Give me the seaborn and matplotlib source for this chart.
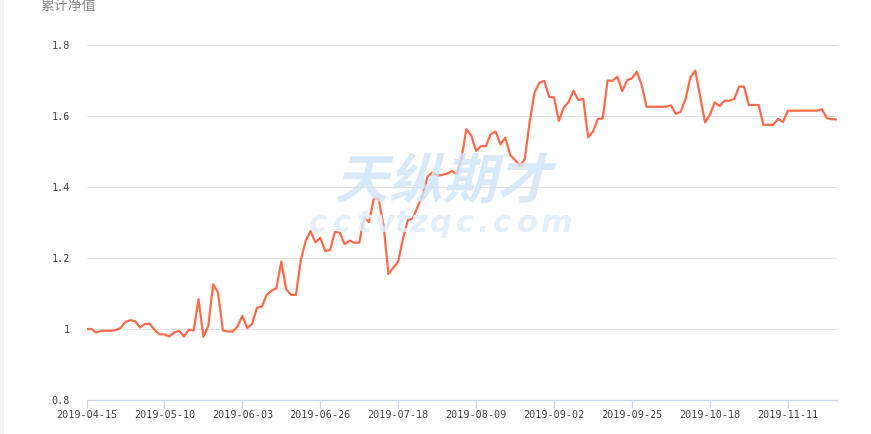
import numpy as np
import pandas as pd
import seaborn as sns
import matplotlib.pyplot as plt
from matplotlib.patches import PathPatch, Rectangle
from matplotlib.textpath import TextPath
from matplotlib.font_manager import FontProperties
from matplotlib.transforms import Affine2D, IdentityTransform

# trading days (China), holidays removed; Oct 1-4 kept in the feed with a flat value
holidays = ['2019-05-01', '2019-05-02', '2019-05-03', '2019-06-07', '2019-09-13', '2019-10-07']
dates = [d.strftime('%Y-%m-%d') for d in pd.bdate_range('2019-04-15', '2019-11-25')
         if d.strftime('%Y-%m-%d') not in holidays]

nav = [
    1.000, 1.000, 0.990, 0.995, 0.995, 0.995, 0.997, 1.003, 1.020, 1.025,
    1.022, 1.004, 1.014, 1.015, 0.997, 0.985, 0.985, 0.979, 0.990, 0.995,
    0.979, 0.998, 0.996, 1.084, 0.978, 1.008, 1.126, 1.103, 0.996, 0.993,
    0.993, 1.007, 1.037, 1.003, 1.014, 1.060, 1.063, 1.096, 1.108, 1.115,
    1.190, 1.112, 1.096, 1.096, 1.194, 1.248, 1.276, 1.244, 1.257, 1.220,
    1.222, 1.273, 1.272, 1.239, 1.249, 1.243, 1.243, 1.315, 1.301, 1.367,
    1.366, 1.290, 1.155, 1.173, 1.190, 1.256, 1.307, 1.312, 1.345, 1.375,
    1.429, 1.441, 1.432, 1.434, 1.437, 1.445, 1.436, 1.481, 1.563, 1.545,
    1.502, 1.515, 1.515, 1.549, 1.556, 1.520, 1.539, 1.490, 1.476, 1.459,
    1.479, 1.584, 1.666, 1.694, 1.699, 1.654, 1.652, 1.586, 1.624, 1.640,
    1.671, 1.645, 1.648, 1.540, 1.556, 1.592, 1.593, 1.700, 1.699, 1.711,
    1.670, 1.701, 1.706, 1.725, 1.687, 1.626, 1.626, 1.626, 1.626, 1.626,
    1.630, 1.606, 1.612, 1.648, 1.709, 1.728, 1.655, 1.582, 1.603, 1.638,
    1.628, 1.643, 1.643, 1.648, 1.683, 1.683, 1.631, 1.631, 1.631, 1.575,
    1.575, 1.575, 1.592, 1.583, 1.615, 1.615, 1.615, 1.615, 1.615, 1.615,
    1.615, 1.619, 1.594, 1.591, 1.590,
]

y_ticks = [0.8, 1.0, 1.2, 1.4, 1.6, 1.8]
y_labels = ['0.8', '1', '1.2', '1.4', '1.6', '1.8']
label_step = 16

df = pd.DataFrame({'date': dates, 'nav': nav})
df['pos'] = np.arange(len(df))

sns.set_style('white')
plt.rcParams['font.family'] = ['DejaVu Sans Mono', 'Noto Sans CJK SC']

W, H = 871, 434
fig = plt.figure(figsize=(W / 100, H / 100), dpi=100)
fig.patch.set_facecolor('white')
fig.patches.append(Rectangle((0, 0), 4 / W, 1, transform=fig.transFigure,
                             facecolor='#f2f2f2', edgecolor='none'))

ax = fig.add_axes([86.5 / W, 34 / H, 750 / W, 355 / H])
sns.lineplot(data=df, x='pos', y='nav', ax=ax, color='#ff6a4a', linewidth=1.6, zorder=3)

ax.set_xlim(0, len(df) - 1)
ax.set_ylim(0.8, 1.8)
ax.set_yticks(y_ticks)
ax.set_yticklabels(y_labels)
tick_pos = df['pos'][::label_step]
ax.set_xticks(tick_pos)
ax.set_xticklabels(df['date'][::label_step])
ax.set_xlabel('')
ax.set_ylabel('')

for y in y_ticks[1:]:
    ax.axhline(y, color='#e3e3e3', linewidth=0.8, zorder=1)

for side in ['top', 'right', 'left']:
    ax.spines[side].set_visible(False)
ax.spines['bottom'].set_color('#c9d5e8')
ax.spines['bottom'].set_linewidth(0.9)
ax.tick_params(axis='x', length=6, width=0.9, color='#c9d5e8', pad=1.5,
               labelsize=7.3, labelcolor='#444444', direction='out', bottom=True)
ax.tick_params(axis='y', length=0, pad=12, labelsize=7.3, labelcolor='#444444')

fig.text(40 / W, 1 - 6 / H, '累计净值', fontsize=10, color='#8c8c8c',
         family=['Noto Sans CJK SC'], va='center', ha='left')

# watermark
fp = FontProperties(family='Noto Sans CJK SC', weight='bold')
tp = TextPath((0, 0), '天纵期才', size=54, prop=fp)
bb = tp.get_extents()
tr = (Affine2D().translate(-bb.x0 - bb.width / 2, -bb.y0 - bb.height / 2)
      .skew_deg(14, 0).translate(447, H - 178))
fig.add_artist(PathPatch(tr.transform_path(tp), facecolor='#cfe5f9', edgecolor='none',
                         alpha=0.8, transform=IdentityTransform(), zorder=5))

url_chars = list('cctvtzqc.com')
url_x = [318, 342, 364, 384, 402, 418, 441, 465, 483, 502, 527, 556]
for ch, x in zip(url_chars, url_x):
    fig.text(x / W, 1 - 232 / H, ch, fontsize=22, color='#deedfb', style='italic',
             weight='bold', family=['DejaVu Sans'], ha='center', va='baseline',
             alpha=0.85, zorder=5)

fig.savefig('out.png', dpi=100)
